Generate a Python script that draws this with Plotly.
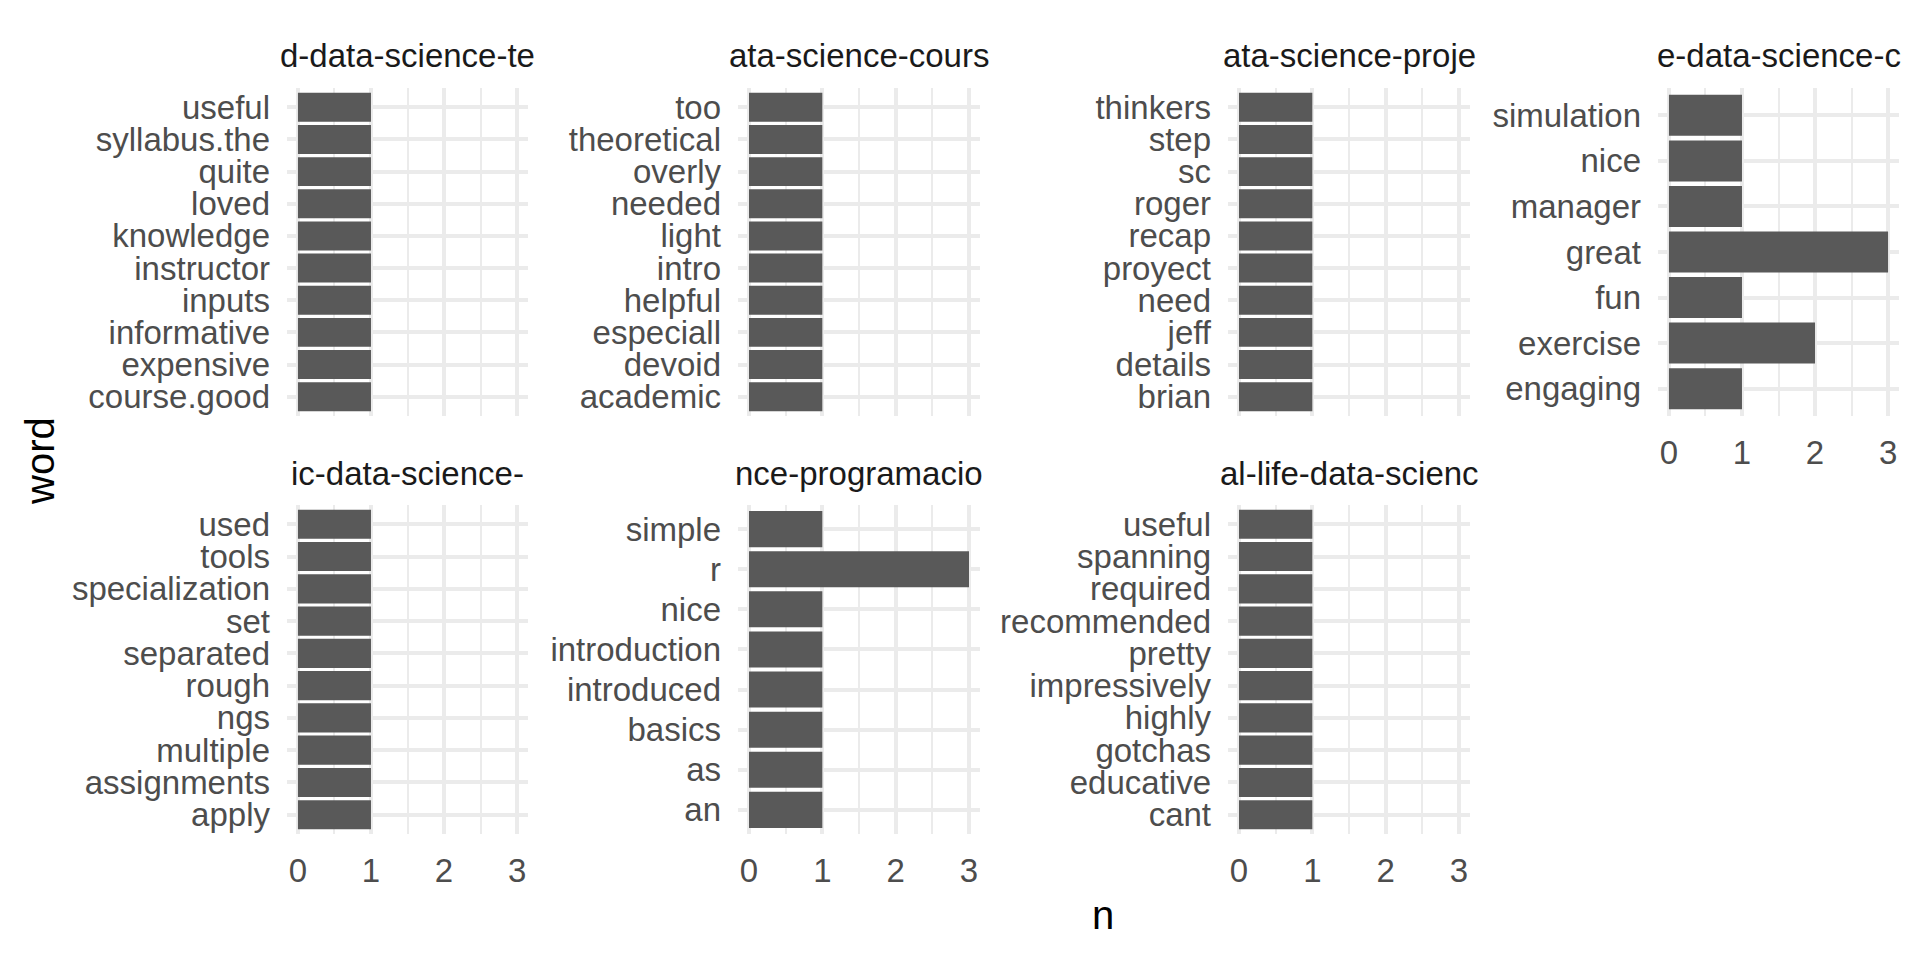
import plotly.graph_objects as go

# facet strip labels (visible part, long names are clipped in the original)
titles = ["d-data-science-te", "ata-science-cours", "ata-science-proje", "e-data-science-c",
          "ic-data-science-", "nce-programacio", "al-life-data-scienc"]

words_1 = ["course.good", "expensive", "informative", "inputs", "instructor",
           "knowledge", "loved", "quite", "syllabus.the", "useful"]
n_1 = [1, 1, 1, 1, 1, 1, 1, 1, 1, 1]

words_2 = ["academic", "devoid", "especiall", "helpful", "intro",
           "light", "needed", "overly", "theoretical", "too"]
n_2 = [1, 1, 1, 1, 1, 1, 1, 1, 1, 1]

words_3 = ["brian", "details", "jeff", "need", "proyect",
           "recap", "roger", "sc", "step", "thinkers"]
n_3 = [1, 1, 1, 1, 1, 1, 1, 1, 1, 1]

words_4 = ["engaging", "exercise", "fun", "great", "manager", "nice", "simulation"]
n_4 = [1, 2, 1, 3, 1, 1, 1]

words_5 = ["apply", "assignments", "multiple", "ngs", "rough",
           "separated", "set", "specialization", "tools", "used"]
n_5 = [1, 1, 1, 1, 1, 1, 1, 1, 1, 1]

words_6 = ["an", "as", "basics", "introduced", "introduction", "nice", "r", "simple"]
n_6 = [1, 1, 1, 1, 1, 1, 3, 1]

words_7 = ["cant", "educative", "gotchas", "highly", "impressively",
           "pretty", "recommended", "required", "spanning", "useful"]
n_7 = [1, 1, 1, 1, 1, 1, 1, 1, 1, 1]

panels = [(words_1, n_1), (words_2, n_2), (words_3, n_3), (words_4, n_4),
          (words_5, n_5), (words_6, n_6), (words_7, n_7)]

# page body has an 8px margin, so the figure is a bit smaller and shifted
OFF = 8
W, H = 1920 - 2 * OFF, 960 - 2 * OFF
cols = [(287, 528), (738, 980), (1228, 1470), (1658, 1899)]
rows = [(88, 416), (505, 834)]
font = "Liberation Sans, Arial, sans-serif"
grid = "#EBEBEB"


def px(v):
    return (v - OFF) / W


def py(v):
    return 1 - (v - OFF) / H


fig = go.Figure()
layout = {}
annotations = []
for i, (words, n) in enumerate(panels):
    r, c = divmod(i, 4)
    k = "" if i == 0 else str(i + 1)
    x0, x1 = cols[c]
    y0, y1 = rows[r]
    fig.add_trace(go.Bar(x=n, y=words, orientation="h", marker_color="#595959",
                         marker_line_width=0, xaxis="x" + k, yaxis="y" + k,
                         showlegend=False, hoverinfo="x+y"))
    show_x = (r == 1) or (c == 3)
    layout["xaxis" + k] = dict(
        domain=[px(x0), px(x1)], anchor="y" + k, range=[-0.15, 3.15],
        tickmode="array", tickvals=[0, 1, 2, 3], showticklabels=show_x, ticks="",
        showgrid=True, gridcolor=grid, gridwidth=4, zeroline=False, showline=False,
        minor=dict(dtick=0.5, tick0=0, showgrid=True, gridcolor=grid, gridwidth=2),
        tickfont=dict(family=font, size=33, color="#4D4D4D"), ticklabelstandoff=14)
    layout["yaxis" + k] = dict(
        domain=[py(y1), py(y0)], anchor="x" + k, type="category",
        categoryorder="array", categoryarray=words, range=[-0.6, len(words) - 0.4],
        tickmode="array", tickvals=words, ticktext=words,
        showgrid=True, gridcolor=grid, gridwidth=4, zeroline=False, showline=False,
        ticks="", tickfont=dict(family=font, size=33, color="#4D4D4D"),
        ticklabelstandoff=16)
    annotations.append(dict(text=titles[i], x=px((x0 + x1) / 2), y=py(56 + r * 417),
                            xref="paper", yref="paper", showarrow=False,
                            xanchor="center", yanchor="middle",
                            font=dict(family=font, size=33, color="#1A1A1A")))

annotations.append(dict(text="word", x=px(40), y=py(461), xref="paper", yref="paper",
                        showarrow=False, textangle=-90, xanchor="center", yanchor="middle",
                        font=dict(family=font, size=40, color="black")))
annotations.append(dict(text="n", x=px(1103), y=py(915), xref="paper", yref="paper",
                        showarrow=False, xanchor="center", yanchor="middle",
                        font=dict(family=font, size=40, color="black")))

fig.update_layout(**layout)
fig.update_layout(width=W, height=H, margin=dict(l=0, r=0, t=0, b=0),
                  plot_bgcolor="white", paper_bgcolor="white", bargap=0.1,
                  annotations=annotations)

fig.write_html("out.html")
